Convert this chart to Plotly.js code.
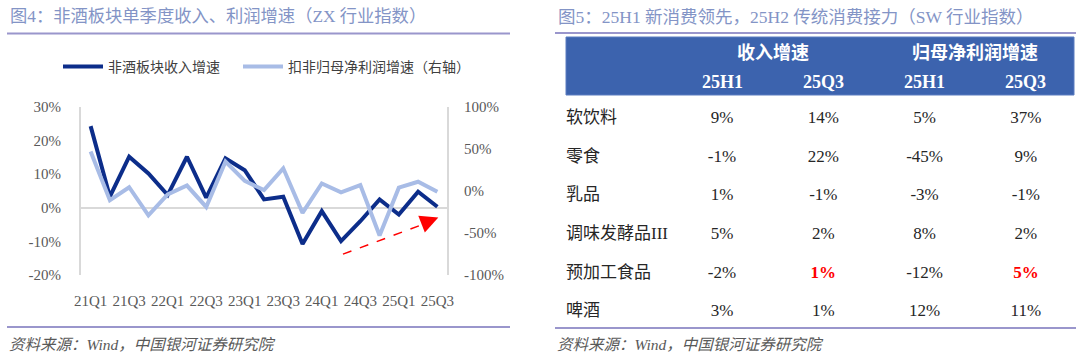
<!DOCTYPE html>
<html><head><meta charset="utf-8">
<script src="https://cdn.plot.ly/plotly-3.0.1.min.js"></script>
<style>html,body{margin:0;padding:0;background:#fff}#chart{width:1080px;height:359px}</style>
</head><body><div id="chart"></div>
<script>
// ---------- Left chart data ----------
const quarters = ['21Q1','21Q2','21Q3','21Q4','22Q1','22Q2','22Q3','22Q4','23Q1','23Q2','23Q3','23Q4','24Q1','24Q2','24Q3','24Q4','25Q1','25Q2','25Q3'];
const revenueGrowth = [24.3, 3.3, 15.2, 10.2, 3.8, 15.2, 3.0, 14.7, 11.2, 2.5, 3.3, -10.8, -1.0, -9.9, -4.0, 2.5, -2.0, 4.8, 0.3];
const profitGrowth  = [47, -11, 4.5, -29, -4, 6.5, -19, 35, 12, 1, 27, -26, 9, -1.5, 7, -53, 4, 11, -1];
const seriesNames = ['非酒板块收入增速', '扣非归母净利润增速（右轴）'];
const leftTicks = [-20, -10, 0, 10, 20, 30];
const rightTicks = [-100, -50, 0, 50, 100];

// ---------- Right table data ----------
const tableCategories = ['软饮料', '零食', '乳品', '调味发酵品III', '预加工食品', '啤酒'];
const rev25H1 = [9, -1, 1, 5, -2, 3];
const rev25Q3 = [14, 22, -1, 2, 1, 1];
const np25H1  = [5, -45, -3, 8, -12, 12];
const np25Q3  = [37, 9, -1, 2, 5, 11];
const groupHeaders = ['收入增速', '归母净利润增速'];
const periodHeaders = ['25H1', '25Q3', '25H1', '25Q3'];
const highlightCategory = '预加工食品';
const highlightPeriod = '25Q3';

// ---------- Texts ----------
const title4 = '图4：非酒板块单季度收入、利润增速（ZX 行业指数）';
const title5 = '图5：25H1 新消费领先，25H2 传统消费接力（SW 行业指数）';
const sourceText = '资料来源：Wind，中国银河证券研究院';

// ---------- Styling helpers ----------
const W = 1080, H = 359;
const px = x => x / W;
const py = y => 1 - y / H;
const FONT = "'Liberation Serif', 'Noto Sans CJK SC', serif";
const DARK = '#0c2d8a', LIGHT = '#a8bce6';
const TITLE_C = '#8394c6', RULE_C = '#9a96cc', AXIS_C = '#d9d9d9', TICK_C = '#595959', TXT = '#262626';

const traces = [
  {x: quarters, y: revenueGrowth, name: seriesNames[0], type: 'scatter', mode: 'lines',
   line: {color: DARK, width: 4}, xaxis: 'x', yaxis: 'y', hoverinfo: 'skip', legend: 'legend'},
  {x: quarters, y: profitGrowth, name: seriesNames[1], type: 'scatter', mode: 'lines',
   line: {color: LIGHT, width: 4}, xaxis: 'x', yaxis: 'y2', hoverinfo: 'skip', legend: 'legend2'}
];

// table cells
const columns = [rev25H1, rev25Q3, np25H1, np25Q3];
const rowIdx = tableCategories.map((_, i) => i);
columns.forEach((col, c) => {
  const hl = tableCategories.map(cat => cat === highlightCategory && periodHeaders[c] === highlightPeriod);
  traces.push({
    x: tableCategories.map(() => c + 1), y: rowIdx, type: 'scatter', mode: 'text',
    text: col.map((v, i) => hl[i] ? '<b>' + v + '%</b>' : v + '%'),
    textposition: 'middle center',
    textfont: {family: FONT, size: 17, color: hl.map(h => h ? '#ff0000' : TXT)},
    xaxis: 'x3', yaxis: 'y3', showlegend: false, hoverinfo: 'skip'
  });
});
const labelColX = -0.54;
traces.push({
  x: tableCategories.map(() => labelColX), y: rowIdx, type: 'scatter', mode: 'text',
  text: tableCategories, textposition: 'middle right',
  textfont: {family: FONT, size: 17, color: TXT},
  xaxis: 'x3', yaxis: 'y3', showlegend: false, hoverinfo: 'skip'
});

const annotations = [
  {text: title4, x: px(8), y: py(17), xref: 'paper', yref: 'paper', xanchor: 'left', yanchor: 'middle', showarrow: false,
   font: {family: FONT, size: 17.3, color: TITLE_C}},
  {text: title5, x: px(556), y: py(17), xref: 'paper', yref: 'paper', xanchor: 'left', yanchor: 'middle', showarrow: false,
   font: {family: FONT, size: 17.5, color: TITLE_C}},
  {text: '<i>' + sourceText + '</i>', x: px(7), y: py(344), xref: 'paper', yref: 'paper', xanchor: 'left', yanchor: 'middle', showarrow: false,
   font: {family: FONT, size: 15.5, color: TICK_C}},
  {text: '<i>' + sourceText + '</i>', x: px(555), y: py(344), xref: 'paper', yref: 'paper', xanchor: 'left', yanchor: 'middle', showarrow: false,
   font: {family: FONT, size: 15.5, color: TICK_C}},
  // arrow head
  {x: 18.05, y: -2.9, ax: 17.2, ay: -4.8, xref: 'x', yref: 'y', axref: 'x', ayref: 'y', text: '', showarrow: true,
   arrowhead: 2, arrowsize: 1.8, arrowwidth: 2, arrowcolor: '#ff0000'}
];
groupHeaders.forEach((g, k) => annotations.push({
  text: '<b>' + g + '</b>', x: 1.5 + 2 * k, y: -1.71, xref: 'x3', yref: 'y3', showarrow: false,
  font: {family: FONT, size: 18, color: '#ffffff'}
}));
periodHeaders.forEach((p, k) => annotations.push({
  text: '<b>' + p + '</b>', x: k + 1, y: -0.96, xref: 'x3', yref: 'y3', showarrow: false,
  font: {family: FONT, size: 18, color: '#ffffff'}
}));

const shapes = [
  {type: 'line', xref: 'paper', yref: 'paper', x0: px(7), x1: px(510), y0: py(33.5), y1: py(33.5), line: {color: RULE_C, width: 2}},
  {type: 'line', xref: 'paper', yref: 'paper', x0: px(7), x1: px(510), y0: py(327), y1: py(327), line: {color: RULE_C, width: 2}},
  {type: 'line', xref: 'paper', yref: 'paper', x0: px(555), x1: px(1076), y0: py(33), y1: py(33), line: {color: RULE_C, width: 2}},
  {type: 'line', xref: 'paper', yref: 'paper', x0: px(555), x1: px(1076), y0: py(328), y1: py(328), line: {color: RULE_C, width: 2}},
  {type: 'rect', xref: 'paper', yref: 'paper', x0: px(566), x1: px(1074), y0: py(95), y1: py(37),
   fillcolor: '#3c63ae', line: {color: '#5a7cc0', width: 1}, layer: 'below'},
  // dashed arrow shaft
  {type: 'line', xref: 'x', yref: 'y', x0: 13.1, y0: -13.8, x1: 17.4, y1: -4.6, line: {color: '#ff0000', width: 1.5, dash: 'dash'}}
];

const legendBase = {orientation: 'h', xanchor: 'left', yanchor: 'middle', y: py(67),
  font: {family: FONT, size: 14, color: '#404040'}, itemwidth: 40, bgcolor: 'rgba(0,0,0,0)'};

const layout = {
  width: W, height: H, autosize: false,
  margin: {l: 0, r: 0, t: 0, b: 0},
  paper_bgcolor: '#ffffff', plot_bgcolor: 'rgba(0,0,0,0)',
  font: {family: FONT, color: TICK_C},
  showlegend: true,
  legend: Object.assign({}, legendBase, {x: px(58)}),
  legend2: Object.assign({}, legendBase, {x: px(238)}),
  xaxis: {domain: [px(81), px(447)], type: 'category', range: [-0.5, quarters.length - 0.5],
          tickvals: quarters.filter((_, i) => i % 2 === 0), ticktext: quarters.filter((_, i) => i % 2 === 0),
          ticks: 'outside', ticklen: 12, tickcolor: 'rgba(0,0,0,0)', showline: false, showgrid: false, zeroline: false,
          tickfont: {family: FONT, size: 15, color: TICK_C}, anchor: 'y', fixedrange: true},
  yaxis: {domain: [py(275), py(107)], range: [-20, 30], tickvals: leftTicks, ticktext: leftTicks.map(v => v + '%'),
          showline: true, linecolor: AXIS_C, linewidth: 2, zeroline: true, zerolinecolor: AXIS_C, zerolinewidth: 2,
          showgrid: false, ticks: 'outside', ticklen: 15, tickcolor: 'rgba(0,0,0,0)',
          tickfont: {family: FONT, size: 15, color: TICK_C}, anchor: 'x', fixedrange: true},
  yaxis2: {overlaying: 'y', side: 'right', range: [-100, 100], tickvals: rightTicks, ticktext: rightTicks.map(v => v + '%'),
           showline: true, linecolor: AXIS_C, linewidth: 2, zeroline: false, showgrid: false,
           ticks: 'outside', ticklen: 12, tickcolor: 'rgba(0,0,0,0)',
           tickfont: {family: FONT, size: 15, color: TICK_C}, anchor: 'x', fixedrange: true},
  xaxis3: {domain: [px(566), px(1074)], range: [-0.540, 4.475], visible: false, anchor: 'y3', fixedrange: true},
  yaxis3: {domain: [py(328), py(37)], range: [5.415, -2.124], visible: false, anchor: 'x3', fixedrange: true},
  annotations: annotations,
  shapes: shapes
};

Plotly.newPlot('chart', traces, layout, {displayModeBar: false, staticPlot: true});
</script>
</body></html>
